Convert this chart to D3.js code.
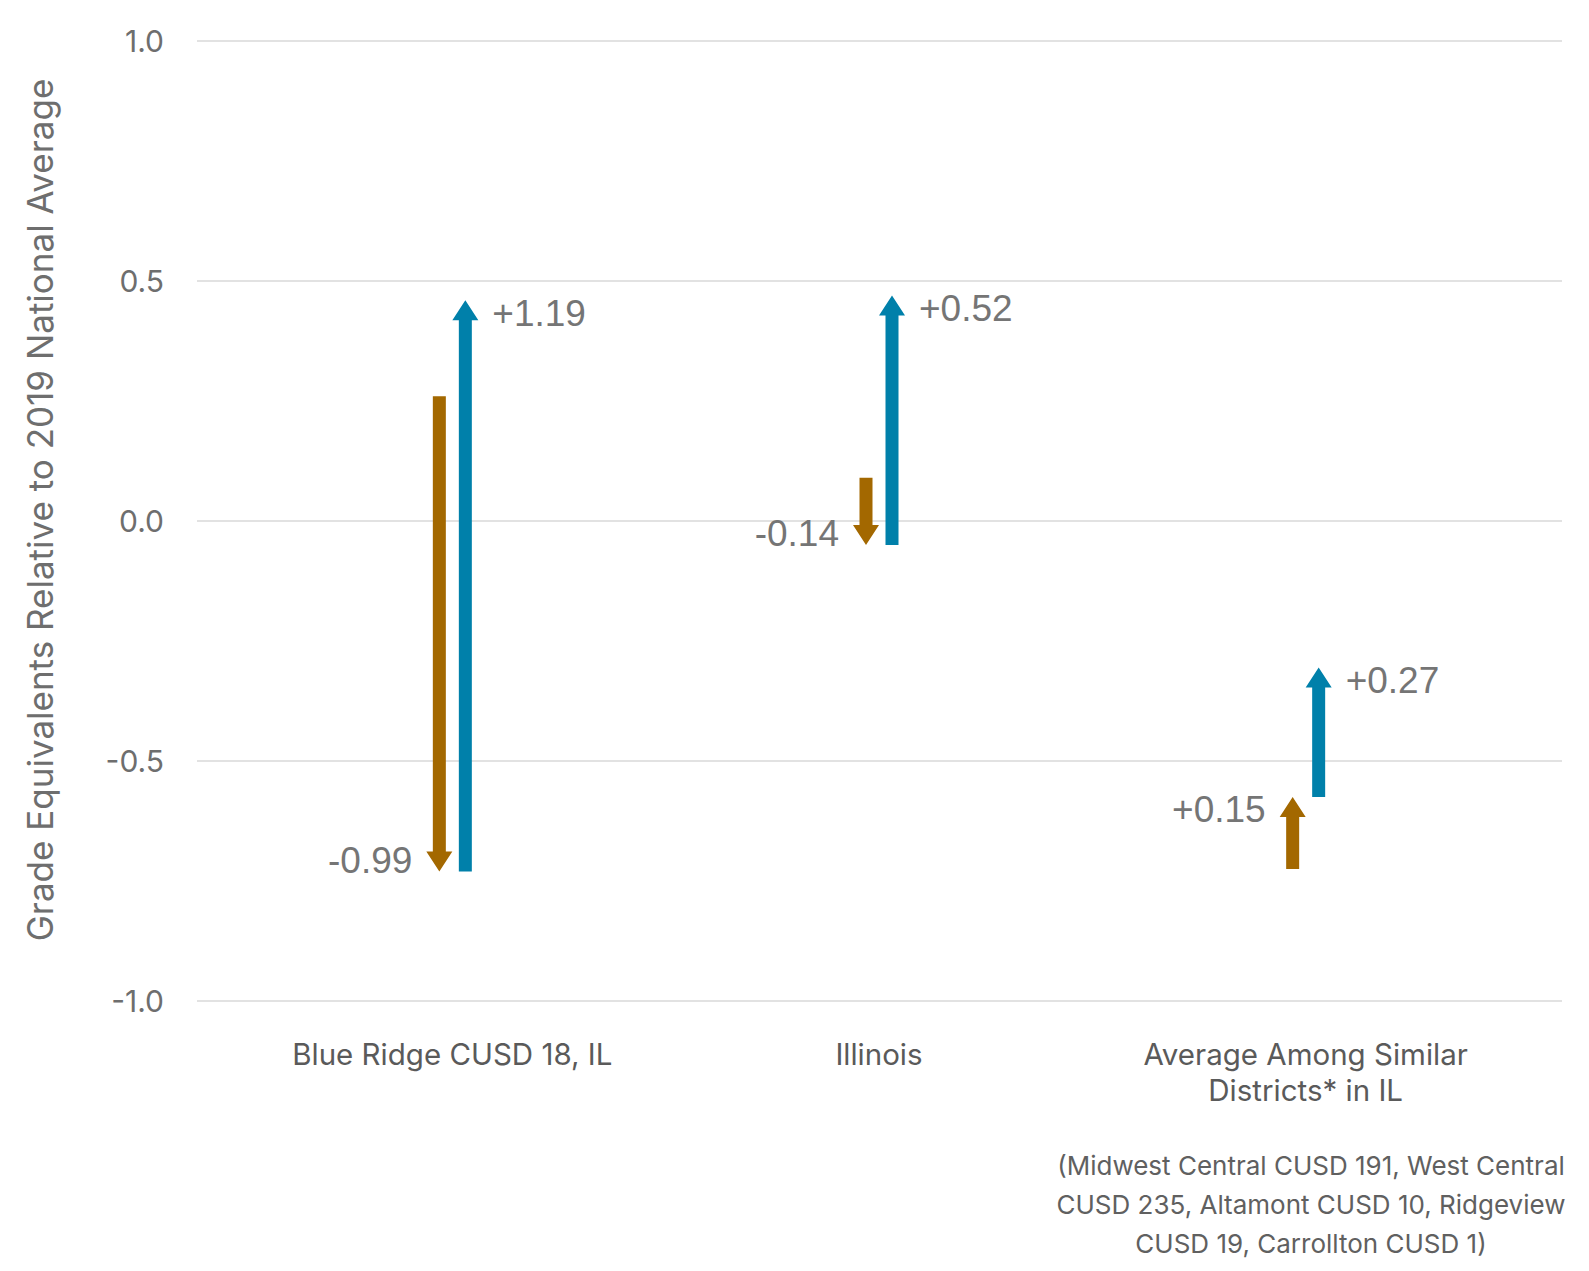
<!DOCTYPE html>
<html><head><meta charset="utf-8">
<script src="https://cdn.jsdelivr.net/npm/d3@7"></script>
<style>body{margin:0;background:#fff}</style>
</head><body>
<svg id="c" width="1589" height="1271"></svg>
<script>
const categories = ["Blue Ridge CUSD 18, IL", "Illinois", "Average Among Similar Districts* in IL"];
const categoryLines = [["Blue Ridge CUSD 18, IL"], ["Illinois"], ["Average Among Similar", "Districts* in IL"]];
const startValues = [0.26, 0.09, -0.725];
const firstChange = [-0.99, -0.14, 0.15];
const secondChange = [1.19, 0.52, 0.27];
const yTicks = [-1.0, -0.5, 0.0, 0.5, 1.0];
const footnote = ["(Midwest Central CUSD 191, West Central", "CUSD 235, Altamont CUSD 10, Ridgeview", "CUSD 19, Carrollton CUSD 1)"];
const yTitle = "Grade Equivalents Relative to 2019 National Average";

const brown = "#a36800", blue = "#0080aa";
const svg = d3.select("#c");
const y = d3.scaleLinear().domain([-1, 1]).range([1001, 41]);
const x = d3.scaleBand().domain(categories).range([239, 1519]);
const cx = c => x(c) + x.bandwidth() / 2;

// gridlines
svg.append("g").selectAll("line").data(yTicks).join("line")
  .attr("x1", 197).attr("x2", 1562)
  .attr("y1", d => y(d)).attr("y2", d => y(d))
  .attr("stroke", "#e2e2e2").attr("stroke-width", 2);

// y axis tick labels
const yAxis = d3.axisLeft(y).tickValues(yTicks).tickFormat(d => d.toFixed(1)).tickSize(0).tickPadding(0);
const ga = svg.append("g").attr("transform", "translate(164,0)").call(yAxis);
ga.select(".domain").remove();
ga.selectAll("text").attr("font-family", "Inter").attr("font-size", 30).attr("fill", "#6e6e6e").attr("dy", "0.35em");

// y title
svg.append("text").attr("transform", "translate(53,510) rotate(-90)")
  .attr("text-anchor", "middle").attr("font-family", "Inter").attr("font-size", 35)
  .attr("fill", "#6e6e6e").text(yTitle);

// category labels
categories.forEach((c, i) => {
  categoryLines[i].forEach((ln, j) => {
    svg.append("text").attr("x", cx(c)).attr("y", 1065 + j * 36)
      .attr("text-anchor", "middle").attr("font-family", "Inter").attr("font-size", 29.5)
      .attr("fill", "#5a5a5a").text(ln);
  });
});

// footnote
footnote.forEach((ln, j) => {
  svg.append("text").attr("x", 1311).attr("y", 1175 + j * 39)
    .attr("text-anchor", "middle").attr("font-family", "Inter").attr("font-size", 26)
    .attr("fill", "#606060").text(ln);
});

function arrowPath(xc, v0, v1) {
  const y0 = y(v0), y1 = y(v1);
  const dir = y1 < y0 ? -1 : 1; // -1 up
  const bw = 6.5, hw = 13, hl = 20;
  const yb = y1 - dir * hl;
  return `M${xc-bw},${y0} L${xc-bw},${yb} L${xc-hw},${yb} L${xc},${y1} L${xc+hw},${yb} L${xc+bw},${yb} L${xc+bw},${y0} Z`;
}
const fmt = v => (v > 0 ? "+" : "") + v.toFixed(2);
const off = 13;

categories.forEach((c, i) => {
  const xb = cx(c) - off, xl = cx(c) + off;
  const s = startValues[i], m = s + firstChange[i], e = m + secondChange[i];
  svg.append("path").attr("d", arrowPath(xb, s, m)).attr("fill", brown);
  svg.append("path").attr("d", arrowPath(xl, m, e)).attr("fill", blue);
  const dir1 = firstChange[i] < 0 ? -1 : 1;
  svg.append("text").attr("x", xb - 27).attr("y", y(m) + dir1 * 12)
    .attr("dy", "0.36em").attr("text-anchor", "end")
    .attr("font-family", "Liberation Sans").attr("font-size", 37).attr("fill", "#757575")
    .text(fmt(firstChange[i]));
  svg.append("text").attr("x", xl + 27).attr("y", y(e) + 12)
    .attr("dy", "0.36em").attr("text-anchor", "start")
    .attr("font-family", "Liberation Sans").attr("font-size", 37).attr("fill", "#757575")
    .text(fmt(secondChange[i]));
});
</script>
</body></html>
